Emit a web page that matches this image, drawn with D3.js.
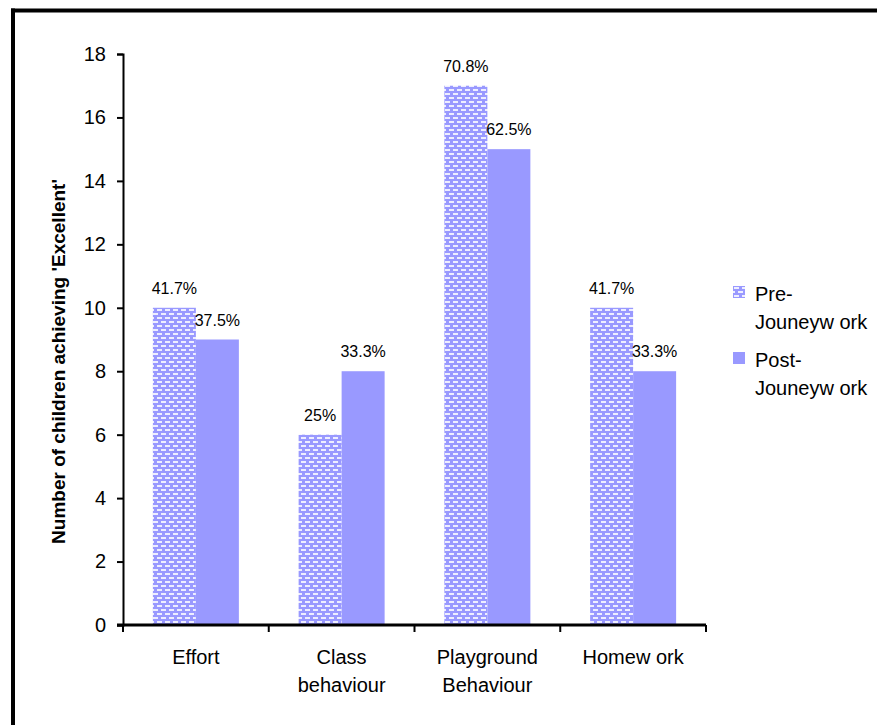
<!DOCTYPE html>
<html>
<head>
<meta charset="utf-8">
<script src="https://cdn.jsdelivr.net/npm/d3@7"></script>
<style>
  body { margin: 0; background: #fff; }
  svg { display: block; font-family: "Liberation Sans", Arial, sans-serif; }
</style>
</head>
<body>
<svg id="chart" width="877" height="725"></svg>
<script>
var categories = [["Effort"], ["Class", "behaviour"], ["Playground", "Behaviour"], ["Homew ork"]];
var preValues = [10, 6, 17, 10];
var postValues = [9, 8, 15, 8];
var preLabels = ["41.7%", "25%", "70.8%", "41.7%"];
var postLabels = ["37.5%", "33.3%", "62.5%", "33.3%"];
var yTicks = [0, 2, 4, 6, 8, 10, 12, 14, 16, 18];
var seriesNames = [["Pre-", "Jouneyw ork"], ["Post-", "Jouneyw ork"]];

var svg = d3.select("#chart");
var blue = "#9999ff";

// dotted fill for pre series
var defs = svg.append("defs");
var pat = defs.append("pattern")
    .attr("id", "dots")
    .attr("patternUnits", "userSpaceOnUse")
    .attr("width", 8).attr("height", 8);
pat.append("rect").attr("width", 8).attr("height", 8).attr("fill", blue);
pat.append("rect").attr("x", 1).attr("y", 1).attr("width", 5).attr("height", 2).attr("fill", "#eeeeff");
pat.append("rect").attr("x", 5).attr("y", 5).attr("width", 5).attr("height", 2).attr("fill", "#eeeeff");
pat.append("rect").attr("x", -3).attr("y", 5).attr("width", 5).attr("height", 2).attr("fill", "#eeeeff");

// frame
svg.append("line").attr("x1", 11).attr("x2", 877).attr("y1", 10.5).attr("y2", 10.5)
    .attr("stroke", "#000").attr("stroke-width", 4);
svg.append("line").attr("x1", 13).attr("x2", 13).attr("y1", 8.5).attr("y2", 725)
    .attr("stroke", "#000").attr("stroke-width", 4);

var plotLeft = 123, plotRight = 706, plotTop = 54, plotBottom = 625;

var x = d3.scaleBand()
    .domain(d3.range(categories.length))
    .range([plotLeft, plotRight])
    .paddingInner(0.41)
    .paddingOuter(0.205);

var xs = d3.scaleBand().domain([0, 1]).range([0, x.bandwidth()]);

var y = d3.scaleLinear().domain([0, 18]).range([plotBottom, plotTop]);

// bars
var series = [
  { values: preValues, labels: preLabels, fill: "url(#dots)" },
  { values: postValues, labels: postLabels, fill: blue }
];

series.forEach(function(s, si) {
    svg.append("g").selectAll("rect")
        .data(s.values)
        .enter().append("rect")
        .attr("x", function(d, i) { return x(i) + xs(si); })
        .attr("y", function(d) { return y(d); })
        .attr("width", xs.bandwidth())
        .attr("height", function(d) { return y(0) - y(d); })
        .attr("fill", s.fill);

    svg.append("g").selectAll("text")
        .data(s.values)
        .enter().append("text")
        .attr("x", function(d, i) { return x(i) + xs(si) + xs.bandwidth() / 2; })
        .attr("y", function(d) { return y(d) - 14; })
        .attr("text-anchor", "middle")
        .attr("font-size", 16)
        .text(function(d, i) { return s.labels[i]; });
});

// y axis
var yAxis = d3.axisLeft(y).tickValues(yTicks).tickSize(6).tickPadding(11);
var gy = svg.append("g").attr("transform", "translate(" + plotLeft + ",0)").call(yAxis);
gy.select(".domain").attr("stroke-width", 2);
gy.selectAll(".tick line").attr("stroke-width", 2);
gy.selectAll("text").attr("font-size", 20).attr("fill", "#000").attr("font-family", "Liberation Sans, Arial, sans-serif");

// x axis with ticks between categories
svg.append("line").attr("x1", plotLeft - 6).attr("x2", plotRight).attr("y1", plotBottom).attr("y2", plotBottom)
    .attr("stroke", "#000").attr("stroke-width", 3);
var bounds = d3.range(categories.length + 1).map(function(i) { return plotLeft + i * x.step(); });
svg.append("g").selectAll("line")
    .data(bounds)
    .enter().append("line")
    .attr("x1", function(d) { return d; }).attr("x2", function(d) { return d; })
    .attr("y1", plotBottom).attr("y2", plotBottom + 7)
    .attr("stroke", "#000").attr("stroke-width", 2);

var cat = svg.append("g").selectAll("text")
    .data(categories)
    .enter().append("text")
    .attr("text-anchor", "middle")
    .attr("font-size", 20)
    .attr("x", function(d, i) { return x(i) + x.bandwidth() / 2; })
    .attr("y", 664);
cat.selectAll("tspan")
    .data(function(d) { return d; })
    .enter().append("tspan")
    .attr("x", function() { return d3.select(this.parentNode).attr("x"); })
    .attr("dy", function(d, i) { return i === 0 ? 0 : 28; })
    .text(function(d) { return d; });

// y title
svg.append("text")
    .attr("transform", "translate(65," + ((plotTop + plotBottom) / 2 + 22) + ") rotate(-90)")
    .attr("text-anchor", "middle")
    .attr("font-size", 19)
    .attr("font-weight", "bold")
    .text("Number of children achieving 'Excellent'");

// legend
var legend = svg.append("g").selectAll("g")
    .data(seriesNames)
    .enter().append("g")
    .attr("transform", function(d, i) { return "translate(733," + (286 + i * 66) + ")"; });
legend.append("rect")
    .attr("width", 12).attr("height", 12)
    .attr("fill", function(d, i) { return i === 0 ? "url(#dots)" : blue; });
legend.append("text")
    .attr("x", 22).attr("y", 15)
    .attr("font-size", 20)
    .selectAll("tspan")
    .data(function(d) { return d; })
    .enter().append("tspan")
    .attr("x", 22)
    .attr("dy", function(d, i) { return i === 0 ? 0 : 28; })
    .text(function(d) { return d; });
</script>
</body>
</html>
